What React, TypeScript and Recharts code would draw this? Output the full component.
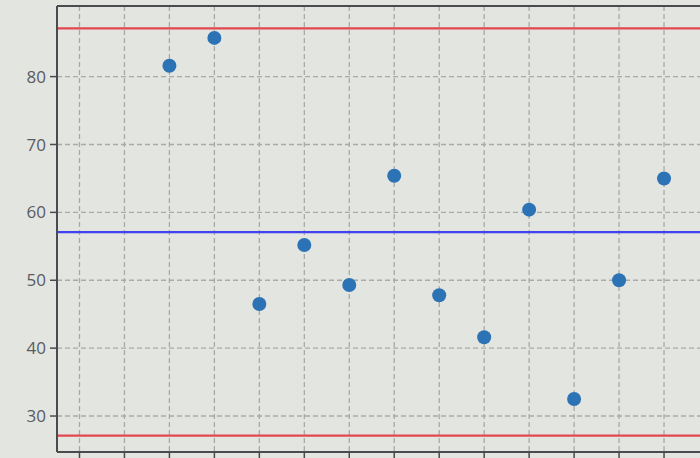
import React from 'react';
import {
  ComposedChart,
  Scatter,
  XAxis,
  YAxis,
  CartesianGrid,
  ReferenceLine,
} from 'recharts';

// Sample positions (x index) and measured values
const sampleIndex = [2, 3, 4, 5, 6, 7, 8, 9, 10, 11, 12, 13];
const sampleValues = [81.6, 85.7, 46.5, 55.2, 49.3, 65.4, 47.8, 41.6, 60.4, 32.5, 50.0, 65.0];

// Control limits
const upperLimit = 87.1;
const centerLine = 57.1;
const lowerLimit = 27.1;

// Axis ticks
const xTicks = [0, 1, 2, 3, 4, 5, 6, 7, 8, 9, 10, 11, 12, 13];
const yTicks = [30, 40, 50, 60, 70, 80];

const data = sampleIndex.map((x, i) => ({ x, y: sampleValues[i] }));

const Dot = (props: any) => {
  const { cx, cy } = props;
  if (cx == null || cy == null) return null;
  return <circle cx={cx} cy={cy} r={7} fill="#2c73b6" />;
};

export default function App() {
  return (
    <div
      style={{
        position: 'absolute',
        left: 0,
        top: 0,
        width: 700,
        height: 458,
        background: '#e3e5e1',
        overflow: 'hidden',
      }}
    >
      <ComposedChart
        width={700}
        height={458}
        data={data}
        margin={{ top: 5, right: 0, bottom: 0, left: 0 }}
      >
        <CartesianGrid
          stroke="#a9aaa7"
          strokeDasharray="5 3"
          strokeWidth={1.3}
          horizontalValues={yTicks}
          verticalValues={xTicks}
        />
        <XAxis
          xAxisId="top"
          orientation="top"
          type="number"
          dataKey="x"
          domain={[-0.5, 13.8]}
          allowDataOverflow
          height={1}
          tick={false}
          tickLine={false}
          axisLine={{ stroke: '#4a4b4f', strokeWidth: 2 }}
        />
        <XAxis
          type="number"
          dataKey="x"
          domain={[-0.5, 13.8]}
          allowDataOverflow
          ticks={xTicks}
          interval={0}
          height={6}
          tickSize={6}
          tickFormatter={() => ''}
          tickLine={{ stroke: '#4a4b4f', strokeWidth: 1.5 }}
          axisLine={{ stroke: '#4a4b4f', strokeWidth: 2 }}
        />
        <YAxis
          type="number"
          dataKey="y"
          domain={[24.7, 90.4]}
          allowDataOverflow
          ticks={yTicks}
          interval={0}
          width={57}
          tickSize={7}
          tickMargin={4}
          tick={{ fill: '#5a5b5e', fontSize: 17, fontFamily: 'Open Sans' }}
          tickLine={{ stroke: '#4a4b4f', strokeWidth: 1.5 }}
          axisLine={{ stroke: '#4a4b4f', strokeWidth: 2 }}
        />
        <ReferenceLine y={upperLimit} stroke="#e2484d" strokeWidth={2.2} />
        <ReferenceLine y={centerLine} stroke="#4141ee" strokeWidth={2.2} />
        <ReferenceLine y={lowerLimit} stroke="#e2484d" strokeWidth={2.2} />
        <Scatter dataKey="y" shape={<Dot />} isAnimationActive={false} />
      </ComposedChart>
    </div>
  );
}
